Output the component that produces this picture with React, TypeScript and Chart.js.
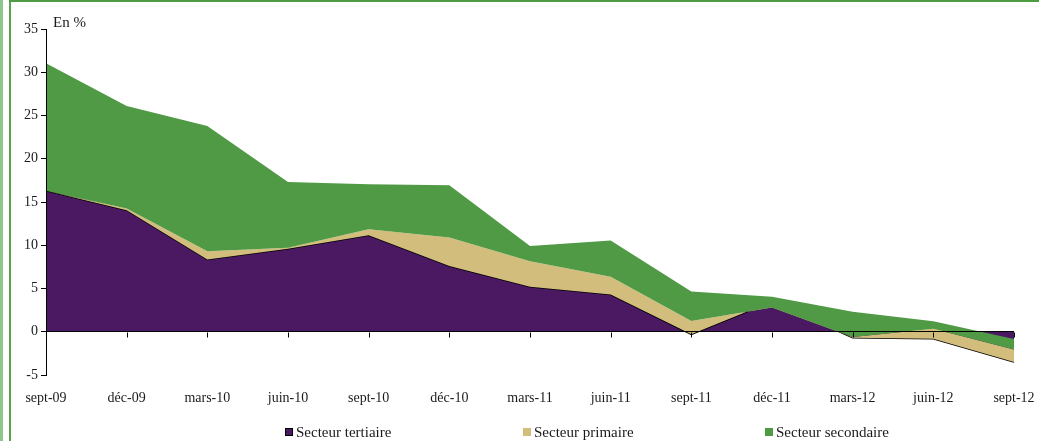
import React, { useEffect, useRef } from "react";
import { Chart, registerables } from "chart.js";

Chart.register(...registerables);

// ---- Data ----
const categories = [
  "sept-09", "déc-09", "mars-10", "juin-10", "sept-10", "déc-10", "mars-11",
  "juin-11", "sept-11", "déc-11", "mars-12", "juin-12", "sept-12",
];
const tertiaire = [16.3, 14.05, 8.35, 9.6, 11.15, 7.6, 5.2, 4.3, -0.3, 3.5, -0.7, -0.8, -3.5];
const primaire = [0, 0.2, 0.95, 0.1, 0.7, 3.3, 2.95, 2.05, 1.55, -0.7, 0.1, 1.15, 1.45];
const secondaire = [14.75, 11.85, 14.5, 7.6, 5.2, 6.05, 1.75, 4.2, 3.4, 1.25, 2.9, 0.85, 1.2];
const seriesNames = ["Secteur tertiaire", "Secteur primaire", "Secteur secondaire"];
const unitLabel = "En %";
const yMin = -5;
const yMax = 35;
const yStep = 5;

// ---- Styles ----
const COLORS = ["#4a1961", "#d3bd7d", "#509a45"];
const FONT = "'Liberation Serif', 'Times New Roman', serif";
const TEXT = "#1a1a1a";

// cumulative boundaries (Excel-like stacking, negatives stacked in sequence)
const cumPrimaire = tertiaire.map((v, i) => v + primaire[i]);
const cumTotal = cumPrimaire.map((v, i) => v + secondaire[i]);

const zeroTicks = {
  id: "zeroTicks",
  afterDraw(chart: any) {
    const { ctx } = chart;
    const xs = chart.scales.x;
    const ys = chart.scales.y;
    const y0 = Math.round(ys.getPixelForValue(0)) + 0.5;
    ctx.save();
    ctx.strokeStyle = "#000";
    ctx.lineWidth = 1;
    ctx.beginPath();
    for (let i = 1; i < categories.length; i++) {
      const px = Math.round(xs.getPixelForValue(i)) + 0.5;
      ctx.moveTo(px, y0);
      ctx.lineTo(px, y0 + 5);
    }
    ctx.stroke();
    ctx.restore();
  },
};

export default function App() {
  const canvasRef = useRef<HTMLCanvasElement | null>(null);

  useEffect(() => {
    if (!canvasRef.current) return;
    const chart = new Chart(canvasRef.current, {
      type: "line",
      data: {
        labels: categories,
        datasets: [
          {
            label: seriesNames[0],
            data: tertiaire,
            backgroundColor: COLORS[0],
            borderColor: "#000",
            borderWidth: 1.5,
            fill: "origin",
            pointRadius: 0,
            tension: 0,
            order: 3,
          },
          {
            label: seriesNames[1],
            data: cumPrimaire,
            backgroundColor: COLORS[1],
            borderColor: "rgba(0,0,0,0)",
            borderWidth: 0,
            fill: "-1",
            pointRadius: 0,
            tension: 0,
            order: 2,
          },
          {
            label: seriesNames[2],
            data: cumTotal,
            backgroundColor: COLORS[2],
            borderColor: "rgba(0,0,0,0)",
            borderWidth: 0,
            fill: "-1",
            pointRadius: 0,
            tension: 0,
            order: 1,
          },
        ],
      },
      options: {
        animation: false,
        responsive: true,
        maintainAspectRatio: false,
        layout: { padding: { top: 29, right: 25, left: 0, bottom: 0 } },
        plugins: {
          legend: { display: false },
          tooltip: { enabled: false },
        },
        scales: {
          x: {
            type: "category",
            grid: { display: false, drawTicks: false },
            border: { display: false },
            ticks: {
              padding: 15,
              autoSkip: false,
              maxRotation: 0,
              color: TEXT,
              font: { family: FONT, size: 14 },
            },
            afterFit: (s: any) => {
              s.height = 66;
              s.paddingLeft = 0;
              s.paddingRight = 0;
            },
          },
          y: {
            min: yMin,
            max: yMax,
            ticks: {
              stepSize: yStep,
              padding: 3,
              color: TEXT,
              font: { family: FONT, size: 14 },
            },
            grid: {
              z: 1,
              color: (c: any) => (c.tick && c.tick.value === 0 ? "#000" : "rgba(0,0,0,0)"),
              tickColor: "#000",
              tickLength: 5,
              lineWidth: 1,
            },
            border: { color: "#000", width: 1, z: 1 },
            afterFit: (s: any) => {
              s.width = 46;
            },
          },
        },
      },
      plugins: [zeroTicks],
    });
    return () => chart.destroy();
  }, []);

  const legendPos = [285, 523, 765];

  return (
    <div style={{ position: "absolute", left: 0, top: 0, width: 1039, height: 441, background: "#fff", overflow: "hidden" }}>
      <div style={{ position: "absolute", left: 0, top: 0, width: 3, height: 441, background: "#8fc68a" }} />
      <div style={{ position: "absolute", left: 9, top: 0, width: 2, height: 441, background: "#5aa34d" }} />
      <div style={{ position: "absolute", left: 9, top: 0, right: 0, height: 2, background: "#4e9c41" }} />
      <div style={{ position: "absolute", left: 0, top: 0, width: 1039, height: 441 }}>
        <canvas ref={canvasRef} />
      </div>
      <span
        style={{
          position: "absolute",
          left: 53,
          top: 14,
          fontFamily: FONT,
          fontSize: 15,
          lineHeight: "16px",
          color: TEXT,
          whiteSpace: "nowrap",
        }}
      >
        {unitLabel}
      </span>
      {seriesNames.map((name, i) => (
        <div
          key={name}
          style={{
            position: "absolute",
            left: legendPos[i],
            top: 424,
            height: 16,
            display: "flex",
            alignItems: "center",
            fontFamily: FONT,
            fontSize: 15,
            color: TEXT,
            whiteSpace: "nowrap",
          }}
        >
          <span
            style={{
              display: "inline-block",
              width: 8,
              height: 8,
              boxSizing: "border-box",
              background: COLORS[i],
              border: i === 0 ? "1px solid #000" : "none",
              marginRight: 3,
            }}
          />
          <span>{name}</span>
        </div>
      ))}
    </div>
  );
}
